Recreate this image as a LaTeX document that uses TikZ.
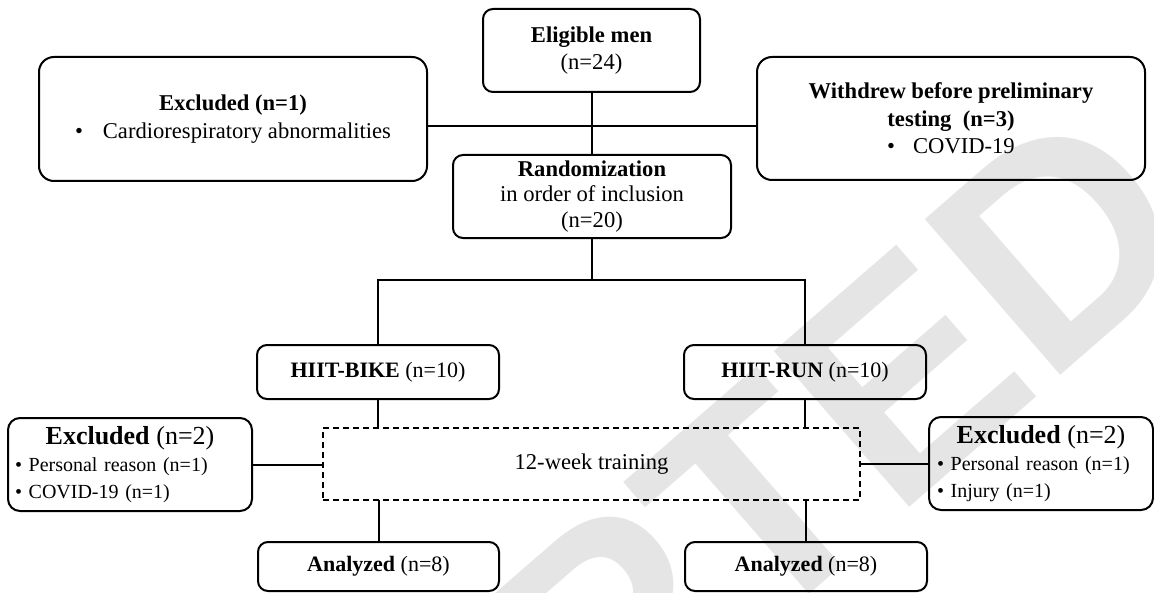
\documentclass[tikz,border=0pt]{standalone}
\usepackage{fontspec}
\setmainfont{Liberation Serif}
\newfontfamily\wmfont{Liberation Sans}
\begin{document}
\begin{tikzpicture}[x=0.5pt,y=-0.5pt,
  box/.style={draw, line width=1pt, rounded corners=5pt, inner sep=0pt, outer sep=0pt, align=center},
  bigbox/.style={box, rounded corners=7.5pt},
  dbox/.style={draw, line width=0.75pt, dash pattern=on 3pt off 2pt, inner sep=0pt, outer sep=0pt, align=center},
  conn/.style={line width=1pt},
  topfont/.style={font=\fontsize{11.3pt}{13.8pt}\selectfont},
  midfont/.style={font=\fontsize{11pt}{13pt}\selectfont},
  smallfont/.style={font=\fontsize{10pt}{13.5pt}\selectfont},
  wm/.style={rotate=41, text=black!10, font=\wmfont\bfseries\fontsize{150pt}{150pt}\selectfont}
  ]
\useasboundingbox (0,0) rectangle (1154,593);
% watermark
\begin{scope}
\clip (0,0) rectangle (1154,593);
\node[wm] (wmark) at (519,710) {ACCEPTED};
\end{scope}
% boxes
\node[box, topfont, minimum width=108.5pt, minimum height=41.5pt] (elig) at (591.5,50.5)
  {\textbf{Eligible men}\\(n=24)};
\node[bigbox, topfont, minimum width=194pt, minimum height=62pt] (excl1) at (233,119)
  {\textbf{Excluded (n=1)}\\ \textbullet\hspace{10pt}Cardiorespiratory abnormalities};
\node[bigbox, topfont, minimum width=194pt, minimum height=61.5pt] (withd) at (951,118.5)
  {\textbf{Withdrew before preliminary}\\ \textbf{testing\ \ (n=3)}\\ \textbullet\hspace{9pt}COVID-19};
\node[box, font=\fontsize{11.3pt}{12.6pt}\selectfont, minimum width=139pt, minimum height=41.5pt] (rand) at (592,196.5)
  {\textbf{Randomization}\\ in order of inclusion\\ (n=20)};
\node[box, midfont, minimum width=121pt, minimum height=27pt] (bike) at (378,372)
  {\textbf{HIIT-BIKE} (n=10)};
\node[box, midfont, minimum width=121pt, minimum height=27pt] (run) at (805,372)
  {\textbf{HIIT-RUN} (n=10)};
\node[dbox, topfont, minimum width=268.5pt, minimum height=36pt] (train) at (591.5,464)
  {12-week training};
\node[box, rounded corners=6pt, smallfont, text width=115pt, inner xsep=3.5pt, align=left, minimum height=46.5pt] (excl2) at (130,464.5)
  {\makebox[\linewidth]{\fontsize{13pt}{14pt}\selectfont\textbf{Excluded} (n=2)}\\ \textbullet{} Personal reason (n=1)\\ \textbullet{} COVID-19 (n=1)};
\node[box, rounded corners=6pt, smallfont, text width=104pt, inner xsep=4pt, align=left, minimum height=46.5pt] (excl3) at (1041,463.5)
  {\makebox[\linewidth]{\fontsize{13pt}{14pt}\selectfont\textbf{Excluded} (n=2)}\\ \textbullet{} Personal reason (n=1)\\ \textbullet{} Injury (n=1)};
\node[box, midfont, minimum width=120.5pt, minimum height=24.5pt] (ana1) at (378.5,566.5)
  {\textbf{Analyzed} (n=8)};
\node[box, midfont, minimum width=121pt, minimum height=24.5pt] (ana2) at (806,566.5)
  {\textbf{Analyzed} (n=8)};
% connectors
\coordinate (hjoin) at (592,126);
\coordinate (split) at (592,280);
\draw[conn] (elig.south) -- (elig.south |- rand.north);
\draw[conn] (excl1.east |- hjoin) -- (withd.west |- hjoin);
\draw[conn] (rand.south) -- (rand.south |- split);
\draw[conn] (bike.north) |- (split) -| (run.north);
\draw[conn] (bike.south) -- (bike.south |- train.north);
\draw[conn] (run.south) -- (run.south |- train.north);
\draw[conn] (train.south -| ana1.north) -- (ana1.north);
\draw[conn] (train.south -| ana2.north) -- (ana2.north);
\draw[conn] (excl2.east) -- (excl2.east -| train.west);
\draw[conn] (train.east) -- (train.east -| excl3.west);
\end{tikzpicture}
\end{document}
